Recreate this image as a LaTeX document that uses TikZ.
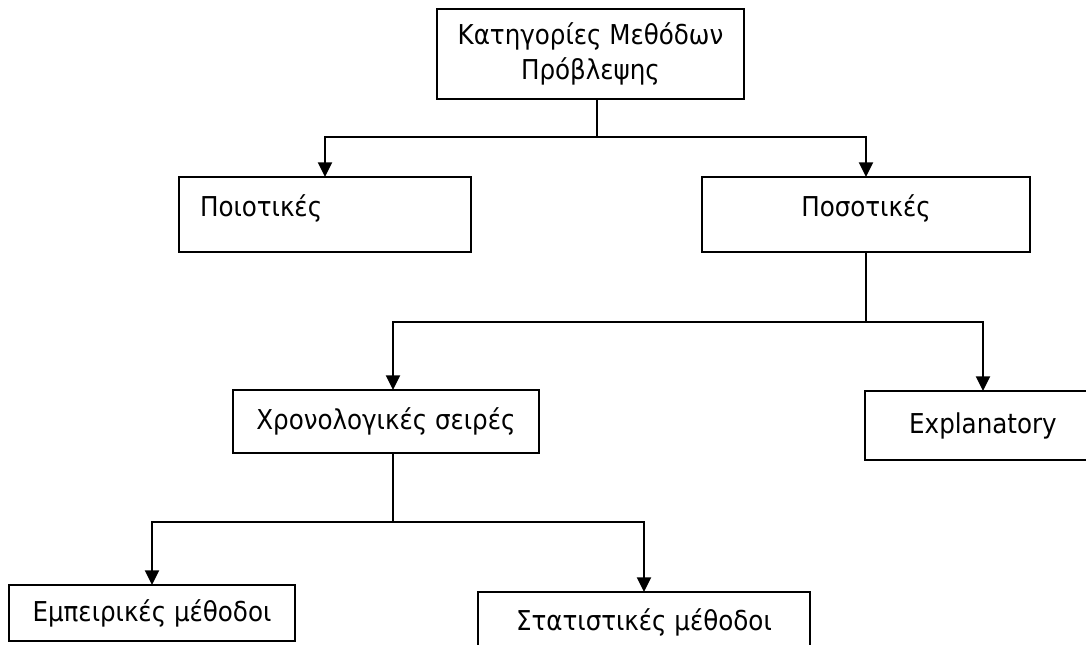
\documentclass[tikz,border=0pt]{standalone}
\usepackage{fontspec}
\setmainfont{DejaVu Sans Condensed}
\usetikzlibrary{arrows.meta}

\begin{document}
\begin{tikzpicture}[x=0.75pt, y=-0.75pt,
  box/.style={draw, line width=1.2pt, inner sep=0pt, outer sep=0pt, align=center, font=\fontsize{20.5}{26}\selectfont},
  high/.style={text height=16pt, text depth=13pt},
  conn/.style={line width=1.6pt},
  arr/.style={conn, -{Triangle[length=11pt,width=10.5pt]}}]

\newcommand{\pxu}{0.75pt}

\useasboundingbox (0,0) rectangle (1086,644);
\clip (0,0) rectangle (1086,644);

% boxes
\node[box, minimum width=307*\pxu, minimum height=90*\pxu] (cat) at (590.5,54) {Κατηγορίες Μεθόδων\\Πρόβλεψης};
\node[box, high, minimum width=292*\pxu, minimum height=75*\pxu, text width=250*\pxu, align=left] (qual) at (325,214.5) {Ποιοτικές};
\node[box, high, minimum width=328*\pxu, minimum height=75*\pxu] (quant) at (866,214.5) {Ποσοτικές};
\node[box, minimum width=306*\pxu, minimum height=63*\pxu] (series) at (386,421.5) {Χρονολογικές σειρές};
\node[box, minimum width=236*\pxu, minimum height=69*\pxu] (expl) at (983,425.5) {Explanatory};
\node[box, minimum width=286*\pxu, minimum height=56*\pxu] (emp) at (152,613) {Εμπειρικές μέθοδοι};
\node[box, minimum width=332*\pxu, minimum height=60*\pxu] (stat) at (644,622) {Στατιστικές μέθοδοι};

% level 1
\coordinate (j1) at (597,137);
\draw[conn] (j1 |- cat.south) -- (j1);
\draw[arr] (j1) -| (qual.north);
\draw[arr] (j1) -| (quant.north);

% level 2
\path (quant.south) ++(0,70) coordinate (j2);
\draw[conn] (quant.south) -- (j2);
\draw[arr] (j2) -| ([xshift=5.25pt]series.north);
\draw[arr] (j2) -| (expl.north);

% level 3
\draw[conn] ([xshift=5.25pt]series.south) -- ++(0,69) coordinate (j3);
\draw[arr] (j3) -| (emp.north);
\draw[arr] (j3) -| (stat.north);

\end{tikzpicture}
\end{document}
